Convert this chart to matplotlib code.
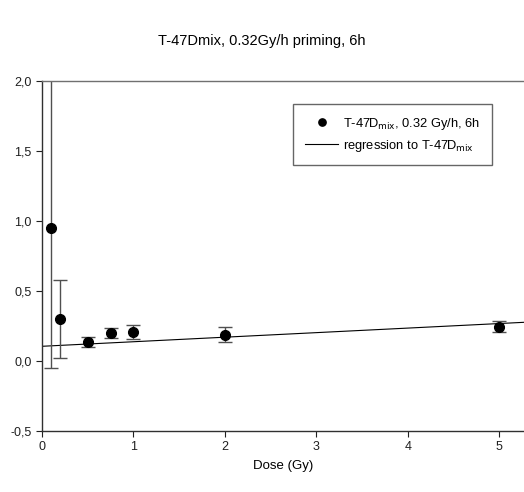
import numpy as np
import matplotlib
matplotlib.use("Agg")
import matplotlib.pyplot as plt
from matplotlib.ticker import FuncFormatter

plt.rcParams['font.family'] = ['Liberation Sans', 'DejaVu Sans']

# dose response data
dose = [0.1, 0.2, 0.5, 0.75, 1.0, 2.0, 5.0]
ratio = [0.95, 0.30, 0.138, 0.20, 0.21, 0.188, 0.245]
err_low = [1.00, 0.28, 0.038, 0.038, 0.053, 0.054, 0.038]
err_high = [1.20, 0.28, 0.036, 0.036, 0.050, 0.057, 0.043]

# linear regression fit
reg_intercept = 0.105
reg_slope = 0.0325

x_max = 5.27

fig = plt.figure(figsize=(5.24, 4.92), dpi=100)
ax = fig.add_axes([0.0802, 0.124, 0.9198, 0.7114])

ax.errorbar(dose, ratio, yerr=[err_low, err_high], fmt='none',
            ecolor='#505050', elinewidth=1.0, capsize=5, capthick=1.0, zorder=2)
ax.plot(dose, ratio, 'o', color='black', markersize=7, zorder=3,
        label=r'T-47D$_{\mathrm{mix}}$, 0.32 Gy/h, 6h')

xs = np.array([0, x_max])
ax.plot(xs, reg_intercept + reg_slope * xs, color='black', linewidth=0.8,
        zorder=1, label=r'regression to T-47D$_{\mathrm{mix}}$')

ax.set_xlim(0, x_max)
ax.set_ylim(-0.5, 2.0)
ax.set_xticks([0, 1, 2, 3, 4, 5])
ax.set_yticks([-0.5, 0.0, 0.5, 1.0, 1.5, 2.0])
ax.yaxis.set_major_formatter(FuncFormatter(lambda v, p: f"{v:.1f}".replace('.', ',')))
ax.tick_params(direction='out', length=4, width=0.8, labelsize=9, colors='#202020')

ax.spines['right'].set_visible(False)
ax.spines['top'].set_color('#707070')
ax.spines['top'].set_linewidth(1.0)
for s in ('left', 'bottom'):
    ax.spines[s].set_color('#303030')
    ax.spines[s].set_linewidth(1.0)

ax.set_xlabel('Dose (Gy)', fontsize=9.5, labelpad=5)
fig.suptitle('T-47Dmix, 0.32Gy/h priming, 6h', fontsize=10.5, y=0.93)

leg = ax.legend(loc='upper right', bbox_to_anchor=(0.934, 0.934), fontsize=9.3,
                frameon=True, fancybox=False, handlelength=2.6, handletextpad=0.4,
                markerscale=0.75, borderpad=0.9, labelspacing=0.45,
                borderaxespad=0)
leg.get_frame().set_edgecolor('#404040')
leg.get_frame().set_linewidth(1.0)

fig.savefig('out.png', dpi=100)
